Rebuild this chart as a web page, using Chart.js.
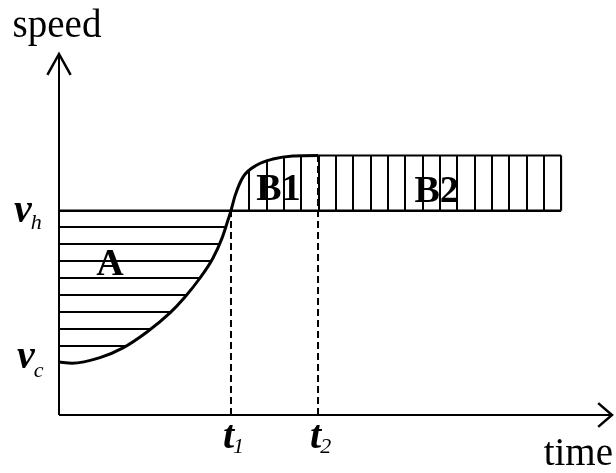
<!DOCTYPE html>
<html>
<head>
<meta charset="utf-8">
<script src="https://cdn.jsdelivr.net/npm/chart.js@4"></script>
<style>
  html, body { margin: 0; padding: 0; background: #fff; }
  canvas { display: block; }
</style>
</head>
<body>
<canvas id="c" width="616" height="473"></canvas>
<script>
// Speed profile: slow rise from v_c, steep climb through v_h at t1, then a plateau.
const curveTime  = [0, 2.35, 7.41, 11.57, 15.91, 20.07, 22.78, 25.5, 27.85, 29.48, 30.56, 31.1, 31.83, 33.27, 35.8, 38.7, 42.3, 46.84, 90.8];
const curveSpeed = [14.7, 14.35, 15.9, 18.6, 23.0, 28.3, 32.7, 37.95, 43.5, 49.0, 54.0, 56.6, 60.7, 65.9, 69.25, 70.9, 71.75, 71.9, 71.9];
const speedHigh = 56.6;           // v_h
const speedCrit = 14.7;           // v_c
const markTimes = [31.1, 46.84];  // t1, t2
const markNames = ['1', '2'];
const plateauEnd = 90.8;
const plateauSpeed = 71.9;
const regionNames = ['A', 'B1', 'B2'];
const regionTime  = [9.2, 39.7, 68.3];
const regionSpeed = [38.8, 59.6, 59.0];

const canvas = document.getElementById('c');
const ctx2d = canvas.getContext('2d');

// Hatch fills: horizontal lines below v_h, vertical lines above it.
function stripes(w, h, rects) {
  const c = document.createElement('canvas');
  c.width = w; c.height = h;
  const g = c.getContext('2d');
  g.fillStyle = '#000';
  rects.forEach(r => g.fillRect(r[0], r[1], r[2], r[3]));
  return ctx2d.createPattern(c, 'repeat');
}
const hatchH = stripes(8, 17, [[0, 5, 8, 2]]);
const hatchV = stripes(52, 8, [[6, 0, 2, 8], [23, 0, 2, 8], [40, 0, 2, 8]]);

const pts = (xs, ys) => xs.map((x, i) => ({x, y: ys[i]}));
const line = (data, extra) => Object.assign({
  data, borderColor: '#000', borderWidth: 2, pointRadius: 0, pointHoverRadius: 0,
  fill: false, clip: false, tension: 0
}, extra || {});

const t1 = markTimes[0], t2 = markTimes[1];

const datasets = [
  line(pts(curveTime, curveSpeed), {
    borderWidth: 3,
    cubicInterpolationMode: 'monotone',
    fill: {value: speedHigh},
    backgroundColor: hatchH,
    segment: {
      backgroundColor: c => c.p0.parsed.x < t1 ? hatchH : hatchV,
      // distinct colour strings keep the A and B parts as separate segments
      borderColor: c => c.p0.parsed.x < t1 ? '#000' : '#000000',
      borderWidth: c => c.p0.parsed.x >= t2 ? 2 : 3
    }
  }),
  line([{x: 0, y: speedHigh}, {x: plateauEnd, y: speedHigh}], {borderWidth: 2.5}),
  line([{x: plateauEnd, y: speedHigh}, {x: plateauEnd, y: plateauSpeed}], {borderWidth: 2}),
  line([{x: t1, y: 0}, {x: t1, y: speedHigh}], {borderDash: [7, 4]}),
  line([{x: t2, y: 0}, {x: t2, y: plateauSpeed}], {borderDash: [7, 4]}),
  // axes with open arrowheads
  line([{x: 0, y: 0}, {x: 0, y: 100}]),
  line([{x: 0, y: 0}, {x: 100, y: 0}]),
  line([{x: -2.1, y: 94.2}, {x: 0, y: 100}, {x: 2.1, y: 94.2}], {borderWidth: 2.5, borderJoinStyle: 'miter'}),
  line([{x: 97.5, y: 3.3}, {x: 100, y: 0}, {x: 97.5, y: -3.3}], {borderWidth: 2.5, borderJoinStyle: 'miter'})
];

const serif = '"Liberation Serif", "Times New Roman", serif';

const figureText = {
  id: 'figureText',
  afterDatasetsDraw(chart) {
    const {ctx, scales: {x, y}} = chart;
    const px = v => x.getPixelForValue(v);
    const py = v => y.getPixelForValue(v);
    ctx.save();
    ctx.fillStyle = '#000';
    ctx.textBaseline = 'alphabetic';

    // axis titles
    ctx.font = '39px ' + serif;
    ctx.textAlign = 'center';
    ctx.fillText('speed', px(0) - 2, py(100) - 17);
    ctx.textAlign = 'right';
    ctx.fillText('time', px(100) + 1, py(0) + 50);

    // symbol with subscript
    function symbol(main, sub, x0, base, drop) {
      ctx.textAlign = 'left';
      ctx.font = 'italic bold 40px ' + serif;
      ctx.fillText(main, x0, base);
      const w = ctx.measureText(main).width;
      ctx.font = 'italic 22px ' + serif;
      ctx.fillText(sub, x0 + w - 1, base + drop);
    }
    symbol('v', 'h', px(0) - 45, py(speedHigh) + 11, 7);
    symbol('v', 'c', px(0) - 42, py(speedCrit) + 6, 9);
    markTimes.forEach((t, i) => symbol('t', markNames[i], px(t) - 8, py(0) + 33, 5));

    // region names
    ctx.font = 'bold 38px ' + serif;
    ctx.textAlign = 'center';
    regionNames.forEach((n, i) => ctx.fillText(n, px(regionTime[i]), py(regionSpeed[i])));
    ctx.restore();
  }
};

new Chart(canvas, {
  type: 'line',
  data: {datasets},
  options: {
    responsive: false,
    animation: false,
    events: [],
    layout: {padding: {left: 59, right: 4, top: 54, bottom: 58}},
    scales: {
      x: {type: 'linear', min: 0, max: 100, display: false},
      y: {type: 'linear', min: 0, max: 100, display: false}
    },
    plugins: {legend: {display: false}, tooltip: {enabled: false}}
  },
  plugins: [figureText]
});
</script>
</body>
</html>
